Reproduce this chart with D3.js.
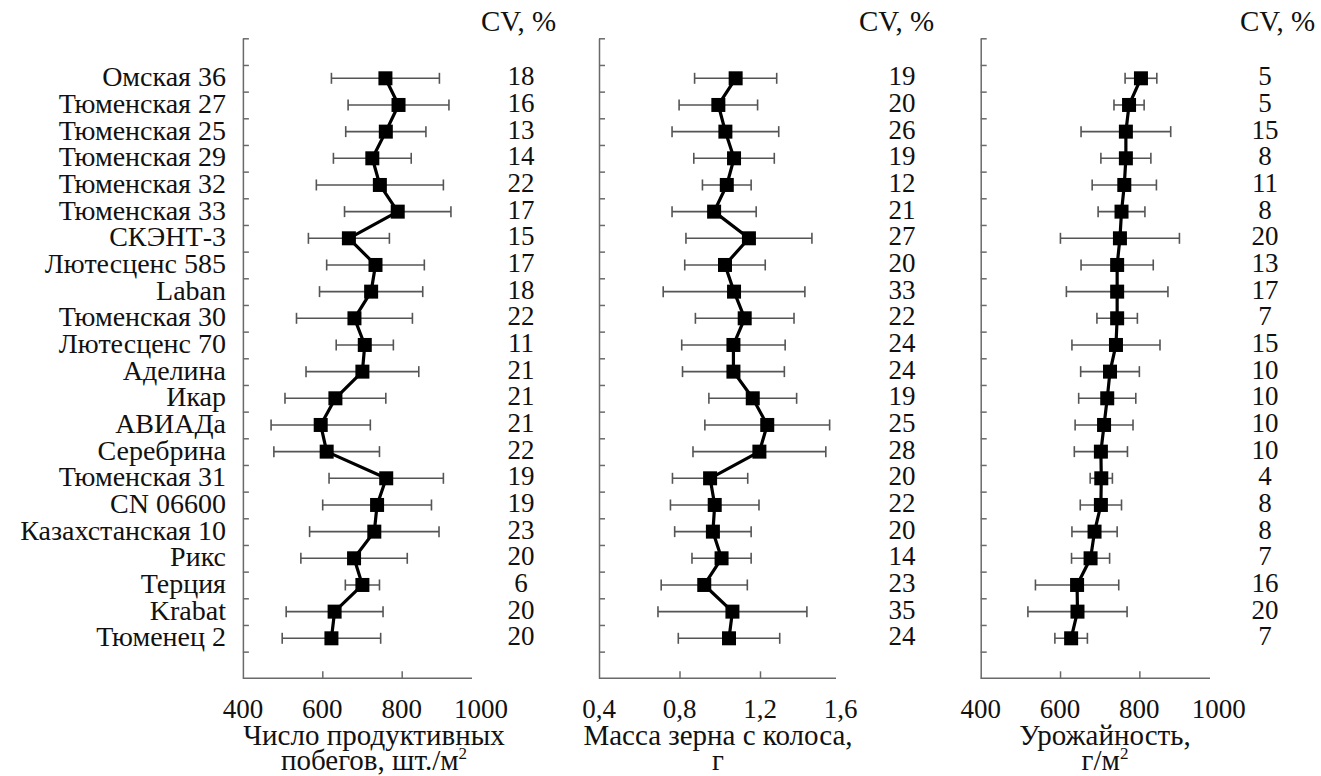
<!DOCTYPE html>
<html>
<head>
<meta charset="utf-8">
<script src="https://cdn.jsdelivr.net/npm/d3@7"></script>
<style>
  html, body { margin: 0; padding: 0; background: #fff; }
</style>
</head>
<body>
<svg id="chart" width="1321" height="776" font-family="'Liberation Serif', 'Times New Roman', Tinos, serif"></svg>
<script>
// ---- data ----
const varieties = ["Омская 36","Тюменская 27","Тюменская 25","Тюменская 29","Тюменская 32","Тюменская 33",
  "СКЭНТ-3","Лютесценс 585","Laban","Тюменская 30","Лютесценс 70","Аделина","Икар","АВИАДа","Серебрина",
  "Тюменская 31","CN 06600","Казахстанская 10","Рикс","Терция","Krabat","Тюменец 2"];

const shootsMean = [759,792,760,726,745,790,667,734,723,681,707,701,633,596,611,761,738,731,680,701,631,623];
const shootsSD   = [136,127,101,98,160,134,102,123,130,146,72,142,127,125,133,144,137,163,134,43,122,124];
const shootsCV   = [18,16,13,14,22,17,15,17,18,22,11,21,21,21,22,19,19,23,20,6,20,20];

const grainMean = [1.079,0.993,1.028,1.071,1.035,0.972,1.145,1.026,1.071,1.124,1.068,1.068,1.164,1.236,1.197,0.952,0.975,0.966,1.009,0.923,1.063,1.046];
const grainSD   = [0.204,0.195,0.265,0.200,0.121,0.209,0.313,0.200,0.352,0.245,0.257,0.253,0.218,0.310,0.330,0.187,0.220,0.190,0.147,0.214,0.370,0.252];
const grainCV   = [19,20,26,19,12,21,27,20,33,22,24,24,19,25,28,20,22,20,14,23,35,24];

const yieldMean = [804,774,766,766,762,755,751,744,744,744,741,726,719,711,703,704,703,687,677,643,644,628];
const yieldSD   = [40,38,113,63,81,59,150,91,128,51,111,74,72,73,67,28,52,57,48,105,125,41];
const yieldCV   = [5,5,15,8,11,8,20,13,17,7,15,10,10,10,10,4,8,8,7,16,20,7];

const shootsTicks = [400,600,800,1000];
const grainTicks  = [0.4,0.8,1.2,1.6];
const yieldTicks  = [400,600,800,1000];
const grainTickLabels = ["0,4","0,8","1,2","1,6"];

const cvHeader = "CV, %";

// ---- layout ----
const svg = d3.select("#chart");
const y = d3.scaleLinear().domain([-1.5, 22.5]).range([38.3, 678.3]);
const yTickVals = d3.range(-1.5, 22, 1);

const panels = [
  { mean: shootsMean, sd: shootsSD, cv: shootsCV, domain: [400,1000], range: [242.9, 481.1], axisEnd: 472,
    ticks: shootsTicks, fmt: d => String(d), cvX: 521, cvHeadX: 481, titleX: 374,
    title: ["Число продуктивных", "побегов, шт./м", "2"] },
  { mean: grainMean, sd: grainSD, cv: grainCV, domain: [0.4,1.6], range: [599, 840.5], axisEnd: 836,
    ticks: grainTicks, fmt: (d,i) => grainTickLabels[i], cvX: 902, cvHeadX: 859, titleX: 718,
    title: ["Масса зерна с колоса,", "г", ""] },
  { mean: yieldMean, sd: yieldSD, cv: yieldCV, domain: [400,1000], range: [980.7, 1218.7], axisEnd: 1210,
    ticks: yieldTicks, fmt: d => String(d), cvX: 1265, cvHeadX: 1240, titleX: 1105,
    title: ["Урожайность,", "г/м", "2"] }
];

const axisColor = "#6a6a6a";
const barColor = "#555";
const FS = 27;       // numbers
const FS_TITLE = 29; // axis titles & headers
const FS_LABEL = 28; // category labels

panels.forEach(p => {
  const x = d3.scaleLinear().domain(p.domain).range(p.range);
  const g = svg.append("g");
  const x0 = x(p.domain[0]);
  const yBottom = y(22.5);

  const yAxis = d3.axisRight(y).tickValues(yTickVals).tickSize(6).tickFormat("").tickSizeOuter(0);
  const ya = g.append("g").attr("transform", `translate(${x0},0)`).call(yAxis);
  ya.select(".domain").attr("stroke", axisColor).attr("stroke-width", 1.5);
  ya.selectAll(".tick line").attr("stroke", axisColor).attr("stroke-width", 1.5);

  const xAxis = d3.axisTop(x).tickValues(p.ticks.slice(1, -1)).tickSize(7).tickFormat("").tickSizeOuter(0);
  const xa = g.append("g").attr("transform", `translate(0,${yBottom})`).call(xAxis);
  xa.select(".domain").attr("d", `M${x0},0H${p.axisEnd}`).attr("stroke", axisColor).attr("stroke-width", 1.5);
  xa.selectAll(".tick line").attr("stroke", axisColor).attr("stroke-width", 1.5);

  g.selectAll("text.tl").data(p.ticks).join("text")
    .attr("class", "tl")
    .attr("x", d => x(d)).attr("y", 718)
    .attr("text-anchor", "middle").attr("font-size", FS).attr("fill", "#111")
    .text((d, i) => p.fmt(d, i));

  const eb = g.selectAll("g.eb").data(p.mean).join("g").attr("class", "eb");
  eb.append("line")
    .attr("x1", (d, i) => x(d - p.sd[i])).attr("x2", (d, i) => x(d + p.sd[i]))
    .attr("y1", (d, i) => y(i)).attr("y2", (d, i) => y(i))
    .attr("stroke", barColor).attr("stroke-width", 1.6);
  [-1, 1].forEach(s => {
    eb.append("line")
      .attr("x1", (d, i) => x(d + s * p.sd[i])).attr("x2", (d, i) => x(d + s * p.sd[i]))
      .attr("y1", (d, i) => y(i) - 5.5).attr("y2", (d, i) => y(i) + 5.5)
      .attr("stroke", barColor).attr("stroke-width", 1.6);
  });

  const line = d3.line().x(d => x(d)).y((d, i) => y(i));
  g.append("path").datum(p.mean).attr("d", line)
    .attr("fill", "none").attr("stroke", "#000").attr("stroke-width", 3.2).attr("stroke-linejoin", "round");

  const ms = 14;
  g.selectAll("rect.mk").data(p.mean).join("rect").attr("class", "mk")
    .attr("x", d => x(d) - ms / 2).attr("y", (d, i) => y(i) - ms / 2)
    .attr("width", ms).attr("height", ms).attr("fill", "#000");

  g.selectAll("text.cv").data(p.cv).join("text").attr("class", "cv")
    .attr("x", p.cvX).attr("y", (d, i) => y(i) + 7)
    .attr("text-anchor", "middle").attr("font-size", FS).attr("fill", "#111")
    .text(d => d);
  g.append("text").attr("x", p.cvHeadX).attr("y", 31).attr("font-size", FS_TITLE).attr("fill", "#111").text(cvHeader);

  g.append("text").attr("x", p.titleX).attr("y", 745).attr("text-anchor", "middle")
    .attr("font-size", FS_TITLE).attr("fill", "#111").text(p.title[0]);
  const t2 = g.append("text").attr("x", p.titleX).attr("y", 770).attr("text-anchor", "middle")
    .attr("font-size", FS_TITLE).attr("fill", "#111");
  t2.append("tspan").text(p.title[1]);
  if (p.title[2]) t2.append("tspan").attr("dy", -11).attr("font-size", 17).text(p.title[2]);
});

svg.append("g").selectAll("text").data(varieties).join("text")
  .attr("x", 226).attr("y", (d, i) => y(i) + 8)
  .attr("text-anchor", "end").attr("font-size", FS_LABEL).attr("fill", "#111")
  .text(d => d);
</script>
</body>
</html>
